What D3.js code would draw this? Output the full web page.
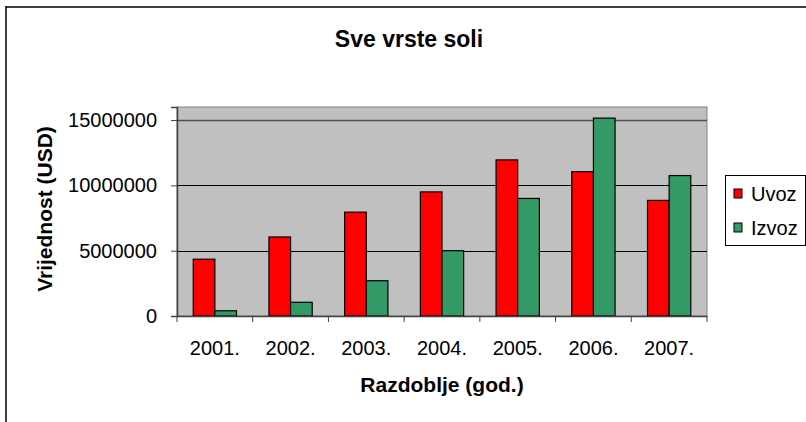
<!DOCTYPE html>
<html>
<head>
<meta charset="utf-8">
<script src="https://cdn.jsdelivr.net/npm/d3@7"></script>
<style>
html,body{margin:0;padding:0;background:#fff;}
svg{display:block;font-family:"Liberation Sans", Arial, sans-serif;}
</style>
</head>
<body>
<svg id="chart" width="806" height="422"></svg>
<script>
const categories = ["2001.", "2002.", "2003.", "2004.", "2005.", "2006.", "2007."];
const uvoz  = [4350000, 6050000, 7950000, 9500000, 11950000, 11050000, 8850000];
const izvoz = [400000, 1050000, 2700000, 5000000, 9000000, 15150000, 10750000];
const seriesNames = ["Uvoz", "Izvoz"];
const seriesColors = ["#FF0000", "#339966"];
const yTicks = [0, 5000000, 10000000, 15000000];
const yMax = 16000000;
const chartTitle = "Sve vrste soli";
const xTitle = "Razdoblje (god.)";
const yTitle = "Vrijednost (USD)";

(function () {
const svg = d3.select("#chart");
const pL = 177, pR = 707, pT = 107, pB = 316;

// outer chart frame (cropped on right/bottom)
svg.append("line").attr("x1", 6).attr("x2", 806).attr("y1", 7).attr("y2", 7)
  .attr("stroke", "#404040").attr("stroke-width", 2);
svg.append("line").attr("x1", 6).attr("x2", 6).attr("y1", 6).attr("y2", 422)
  .attr("stroke", "#000").attr("stroke-width", 1.5);

const x = d3.scaleBand().domain(categories).range([pL, pR]).padding(0);
const y = d3.scaleLinear().domain([0, yMax]).range([pB, pT]);

// plot area
svg.append("rect").attr("x", pL).attr("y", y(yMax)).attr("width", pR - pL)
  .attr("height", pB - y(yMax)).attr("fill", "#C0C0C0")
  .attr("stroke", "#808080").attr("stroke-width", 1);

// gridlines
svg.append("g").selectAll("line").data(yTicks.filter(d => d > 0)).join("line")
  .attr("x1", pL).attr("x2", pR)
  .attr("y1", d => Math.round(y(d)) + 0.5).attr("y2", d => Math.round(y(d)) + 0.5)
  .attr("stroke", (d, i, a) => i === a.length - 1 ? "#505050" : "#000")
  .attr("stroke-width", (d, i, a) => i === a.length - 1 ? 1.5 : 1);

// bars
const bw = x.bandwidth() / 3.5;
const data = [uvoz, izvoz];
data.forEach((vals, si) => {
  svg.append("g").selectAll("rect").data(vals).join("rect")
    .attr("x", (d, i) => x(categories[i]) + 0.75 * bw + si * bw)
    .attr("y", d => y(d))
    .attr("width", bw)
    .attr("height", d => y(0) - y(d))
    .attr("fill", seriesColors[si])
    .attr("stroke", "#000").attr("stroke-width", 1.2);
});

// y axis
const yAxis = d3.axisLeft(y).tickValues(yTicks).tickSize(6).tickPadding(14)
  .tickFormat(d3.format("d"));
const gy = svg.append("g").attr("transform", `translate(${pL},0)`).call(yAxis);
gy.select(".domain").attr("stroke", "#404040").attr("stroke-width", 1.5);
gy.selectAll(".tick line").attr("stroke", "#404040");
gy.selectAll(".tick text").attr("font-size", 20).attr("fill", "#000")
  .attr("font-family", "Liberation Sans, Arial, sans-serif");

// x axis
const xAxis = d3.axisBottom(x).tickValues([]).tickSizeOuter(0);
const gx = svg.append("g").attr("transform", `translate(0,${pB})`).call(xAxis);
gx.select(".domain").attr("stroke", "#404040").attr("stroke-width", 1.5);
const boundaries = d3.range(categories.length + 1).map(i => pL + i * x.bandwidth());
gx.selectAll("line.cat").data(boundaries).join("line").attr("class", "cat")
  .attr("x1", d => d).attr("x2", d => d).attr("y1", 0).attr("y2", 6)
  .attr("stroke", "#404040");
gx.selectAll("text.cat").data(categories).join("text").attr("class", "cat")
  .attr("x", d => x(d) + x.bandwidth() / 2).attr("y", 39)
  .attr("text-anchor", "middle").attr("font-size", 20).attr("fill", "#000")
  .attr("font-family", "Liberation Sans, Arial, sans-serif")
  .text(d => d);

// titles
svg.append("text").attr("x", 409).attr("y", 47).attr("text-anchor", "middle")
  .attr("font-size", 23).attr("font-weight", "bold").text(chartTitle);
svg.append("text").attr("x", 442).attr("y", 392).attr("text-anchor", "middle")
  .attr("font-size", 21).attr("font-weight", "bold").text(xTitle);
svg.append("text").attr("transform", "translate(52,209) rotate(-90)")
  .attr("text-anchor", "middle")
  .attr("font-size", 21).attr("font-weight", "bold").text(yTitle);

// legend
const lg = svg.append("g");
lg.append("rect").attr("x", 725.5).attr("y", 175.5).attr("width", 80).attr("height", 70)
  .attr("fill", "#fff").attr("stroke", "#000").attr("stroke-width", 1);
seriesNames.forEach((n, i) => {
  const cy = 194 + i * 34;
  lg.append("rect").attr("x", 734).attr("y", cy - 5).attr("width", 8).attr("height", 9)
    .attr("fill", seriesColors[i]).attr("stroke", "#000").attr("stroke-width", 1);
  lg.append("text").attr("x", 751).attr("y", cy + 7).attr("font-size", 20)
    .attr("fill", "#000").text(n);
});
})();
</script>
</body>
</html>
